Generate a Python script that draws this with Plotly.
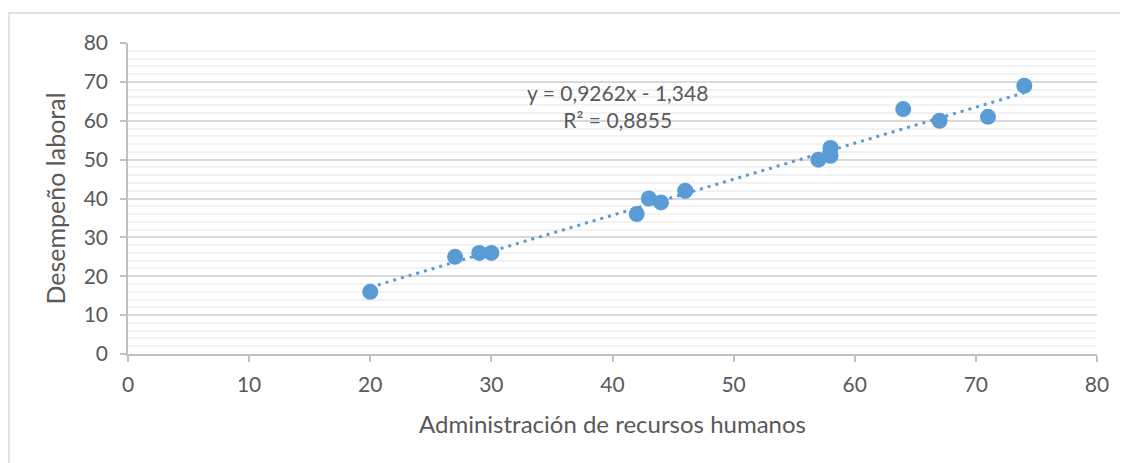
import plotly.graph_objects as go

admin_rrhh = [20, 27, 29, 30, 42, 43, 44, 46, 57, 58, 58, 64, 67, 71, 74]
desempeno = [16, 25, 26, 26, 36, 40, 39, 42, 50, 51, 53, 63, 60, 61, 69]
slope = 0.9262
intercept = -1.348
r2_text = "R² = 0,8855"
eq_text = "y = 0,9262x - 1,348"

x_title = "Administración de recursos humanos"
y_title = "Desempeño laboral"

blue = "#5b9bd5"
txt = "#595959"
font_family = "Lato, Open Sans, sans-serif"

xmin, xmax = min(admin_rrhh), max(admin_rrhh)
trend_x = [xmin, xmax]
trend_y = [slope * v + intercept for v in trend_x]

fig = go.Figure()
fig.add_trace(go.Scatter(x=trend_x, y=trend_y, mode="lines",
                         line=dict(color=blue, width=3, dash="3px,5px"),
                         hoverinfo="skip", showlegend=False))
fig.add_trace(go.Scatter(x=admin_rrhh, y=desempeno, mode="markers",
                         marker=dict(color=blue, size=16, line=dict(width=0)),
                         showlegend=False))

fig.add_annotation(x=40.4, y=63.8, xref="x", yref="y",
                   text=eq_text + "<br>" + r2_text, showarrow=False,
                   align="center", font=dict(size=21, color=txt, family=font_family))

# page body has an 8px margin; figure sized to fit 1128x463 viewport
fig.update_layout(
    width=1120, height=455,
    margin=dict(l=120, r=31, t=35, b=109),
    paper_bgcolor="white", plot_bgcolor="white",
    font=dict(family=font_family, size=21, color=txt),
    xaxis=dict(range=[0, 80], dtick=10, tick0=0, showgrid=False, zeroline=False,
               showline=True, linecolor="#bfbfbf", linewidth=1.5,
               ticks="outside", ticklen=6, tickcolor="#bfbfbf", tickwidth=1.5,
               tickfont=dict(size=21, color=txt), ticklabelstandoff=5,
               title=dict(text=x_title, font=dict(size=24, color=txt), standoff=21)),
    yaxis=dict(range=[0, 80], dtick=10, tick0=0, showgrid=True, gridcolor="#d9d9d9",
               gridwidth=1.5, zeroline=False,
               showline=True, linecolor="#bfbfbf", linewidth=1.5,
               ticks="outside", ticklen=6, tickcolor="#bfbfbf", tickwidth=1.5,
               tickfont=dict(size=21, color=txt), ticklabelstandoff=8,
               minor=dict(dtick=2, showgrid=True, gridcolor="#f2f2f2", gridwidth=1.5),
               title=dict(text=y_title, font=dict(size=25, color=txt), standoff=11)),
)

fig.add_shape(type="rect", xref="paper", yref="paper",
              x0=(9 - 128) / 969, x1=1.2, y0=-0.6, y1=1 + (43 - 13) / 311,
              line=dict(color="#d9d9d9", width=1.5), fillcolor="rgba(0,0,0,0)", layer="below")

fig.write_html("out.html")
